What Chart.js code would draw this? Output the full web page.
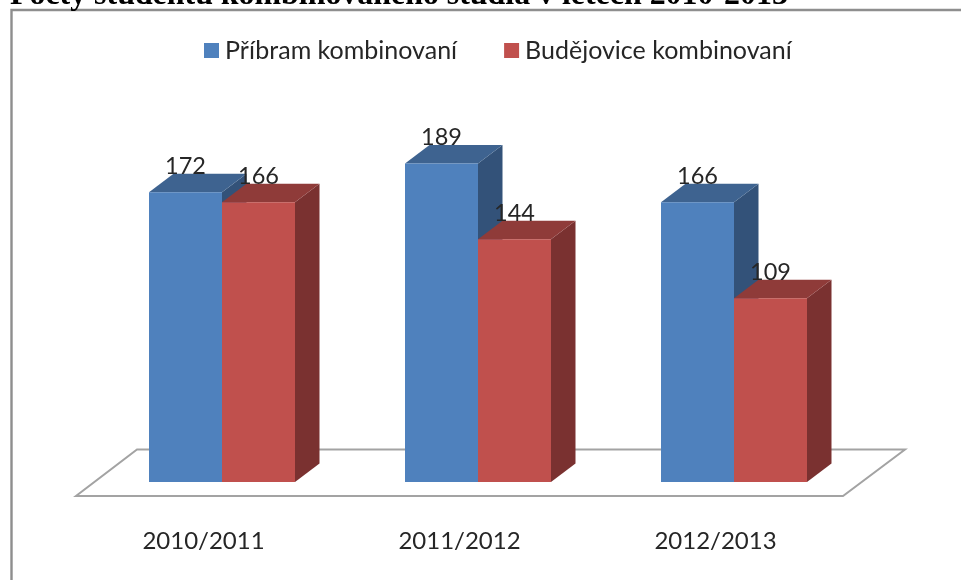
<!DOCTYPE html>
<html>
<head>
<meta charset="utf-8">
<script src="https://cdn.jsdelivr.net/npm/chart.js@4"></script>
<style>
html,body{margin:0;padding:0;background:#fff;overflow:hidden}
#wrap{position:relative;width:961px;height:580px;overflow:hidden}
#title{position:absolute;left:10px;top:-21px;font:bold 31.9px/30px "Liberation Serif",serif;color:#000;white-space:nowrap;z-index:2}
canvas{position:absolute;left:0;top:0}
</style>
</head>
<body>
<div id="wrap">
<div id="title">Počty studentů kombinovaného studia v letech 2010-2013</div>
<canvas id="c" width="961" height="580"></canvas>
</div>
<script>
const categories = ["2010/2011", "2011/2012", "2012/2013"];
const pribram = [172, 189, 166];
const budejovice = [166, 144, 109];
const seriesNames = ["Příbram kombinovaní", "Budějovice kombinovaní"];
const frontColors = ["#4F81BD", "#C0504D"];
const topColors = ["#3E6390", "#8F3B39"];
const sideColors = ["#335279", "#7A3130"];

const DX = 24.5, DY = 18.5, FONT = "Lato, sans-serif", TEXT = "#262626";

const pseudo3d = {
  id: "pseudo3d",
  afterLayout(chart) {
    chart.legend.left = 157;
    chart.legend.right = 157 + chart.legend.width;
    chart.legend.top = -15.5;
  },
  beforeDraw(chart) {
    const ctx = chart.ctx;
    ctx.save();
    ctx.strokeStyle = "#8e8e8e";
    ctx.lineWidth = 2.4;
    ctx.beginPath();
    ctx.moveTo(11.5, 580);
    ctx.lineTo(11.5, 10);
    ctx.lineTo(961, 10);
    ctx.stroke();
    ctx.restore();
  },
  beforeDatasetsDraw(chart) {
    const ctx = chart.ctx;
    const a = chart.chartArea, base = chart.scales.y.getPixelForValue(0);
    ctx.save();
    ctx.strokeStyle = "#a3a3a3";
    ctx.lineWidth = 2;
    ctx.lineJoin = "miter";
    ctx.beginPath();
    ctx.moveTo(a.left - 18, base + 14);
    ctx.lineTo(a.right - 19, base + 14);
    ctx.lineTo(a.right + 43, base - 32.5);
    ctx.lineTo(a.left + 43, base - 32.5);
    ctx.closePath();
    ctx.stroke();
    chart.data.datasets.forEach((ds, i) => {
      chart.getDatasetMeta(i).data.forEach(bar => {
        const l = bar.x - bar.width / 2, r = bar.x + bar.width / 2, t = bar.y, b = bar.base;
        ctx.fillStyle = sideColors[i];
        ctx.beginPath();
        ctx.moveTo(r, t); ctx.lineTo(r + DX, t - DY); ctx.lineTo(r + DX, b - DY); ctx.lineTo(r, b);
        ctx.closePath(); ctx.fill();
        ctx.fillStyle = topColors[i];
        ctx.beginPath();
        ctx.moveTo(l, t); ctx.lineTo(l + DX, t - DY); ctx.lineTo(r + DX, t - DY); ctx.lineTo(r, t);
        ctx.closePath(); ctx.fill();
      });
    });
    ctx.restore();
  },
  afterDatasetsDraw(chart) {
    const ctx = chart.ctx;
    ctx.save();
    ctx.font = "23.5px " + FONT;
    ctx.fillStyle = TEXT;
    ctx.textAlign = "center";
    ctx.textBaseline = "middle";
    chart.data.datasets.forEach((ds, i) => {
      chart.getDatasetMeta(i).data.forEach((bar, j) => {
        ctx.fillText(String(ds.data[j]), bar.x, bar.y - 26);
      });
    });
    ctx.restore();
  }
};

new Chart(document.getElementById("c"), {
  type: "bar",
  data: {
    labels: categories,
    datasets: [
      { label: seriesNames[0], data: pribram, backgroundColor: frontColors[0], borderWidth: 0 },
      { label: seriesNames[1], data: budejovice, backgroundColor: frontColors[1], borderWidth: 0 }
    ]
  },
  options: {
    responsive: false,
    animation: false,
    events: [],
    layout: { padding: { left: 94, right: 99, top: 56.5, bottom: 0 } },
    datasets: { bar: { barPercentage: 1, categoryPercentage: 0.5703 } },
    scales: {
      x: {
        grid: { display: false, drawTicks: false },
        border: { display: false },
        afterFit(scale) { scale.height = 98; },
        ticks: { padding: 44.5, labelOffset: -18.5, color: TEXT, font: { family: FONT, size: 24 }, maxRotation: 0 }
      },
      y: { display: false, min: 0, max: 200 }
    },
    plugins: {
      title: { display: false },
      tooltip: { enabled: false },
      legend: {
        position: "top",
        align: "start",
        labels: {
          boxWidth: 2,
          boxHeight: 2,
          padding: 53.5,
          color: TEXT,
          font: { family: FONT, size: 25 },
          generateLabels(chart) {
            return Chart.defaults.plugins.legend.labels.generateLabels(chart).map(item =>
              Object.assign(item, { lineWidth: 13, strokeStyle: item.fillStyle }));
          }
        }
      }
    }
  },
  plugins: [pseudo3d]
});
</script>
</body>
</html>
